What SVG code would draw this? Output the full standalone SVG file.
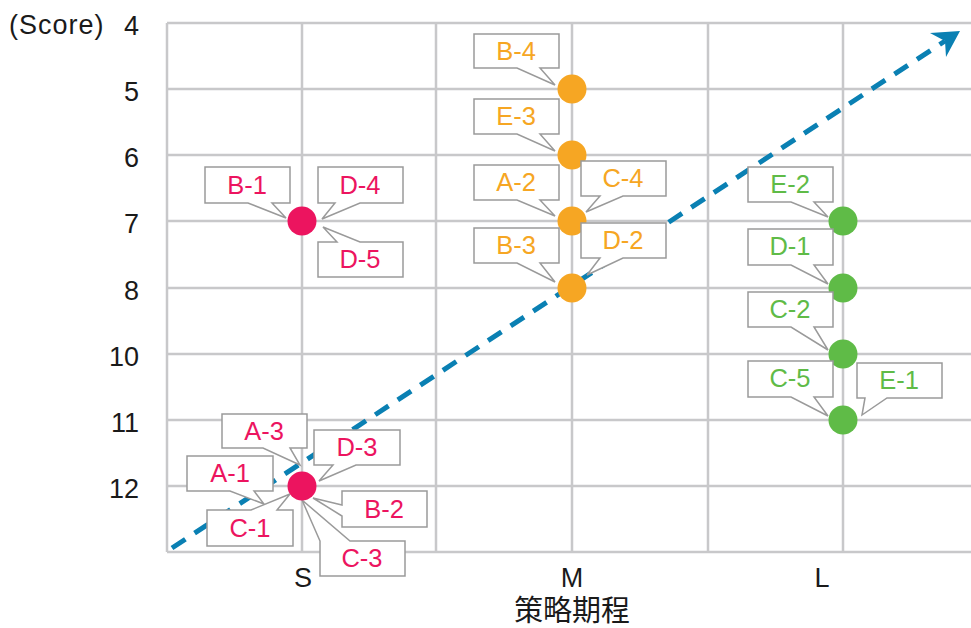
<svg xmlns="http://www.w3.org/2000/svg" width="971" height="628" viewBox="0 0 971 628">
<style>
.grid{stroke:#c8c8ca;stroke-width:2.5;fill:none}
.ax{font-family:"Liberation Sans",Arial,sans-serif;font-size:27px;fill:#1a1a1a}
.cjk{font-family:"Liberation Sans","Noto Sans CJK TC",sans-serif;font-size:29px;fill:#1a1a1a}
.co{fill:#fff;stroke:#9a9a9a;stroke-width:1.5}
.lb{font-family:"Liberation Sans",Arial,sans-serif;font-size:25.5px;text-anchor:middle}
.pk{fill:#ec145f}
.og{fill:#f6a623}
.gn{fill:#5fbb47}
</style>
<rect width="971" height="628" fill="#fff"/>
<g id="grid">
<path class="grid" d="M167 23H971M167 89H971M167 155H971M167 221H971M167 288H971M167 354H971M167 420H971M167 486H971M167 552H971"/>
<path class="grid" d="M167 23V552M302 23V552M436 23V552M572 23V552M708 23V552M843 23V552"/>
</g>
<g id="axes">
<text class="ax" x="9" y="34" font-size="28" letter-spacing="1">(Score)</text>
<g text-anchor="end">
<text class="ax" x="139" y="35">4</text>
<text class="ax" x="139" y="101">5</text>
<text class="ax" x="139" y="167">6</text>
<text class="ax" x="139" y="233">7</text>
<text class="ax" x="139" y="300">8</text>
<text class="ax" x="139" y="366">10</text>
<text class="ax" x="139" y="432">11</text>
<text class="ax" x="139" y="498">12</text>
</g>
<g text-anchor="middle">
<text class="ax" x="303" y="587">S</text>
<text class="ax" x="572" y="587">M</text>
<text class="ax" x="822" y="587">L</text>
<text class="cjk" x="572" y="621">策略期程</text>
</g>
</g>
<g id="connectors">
<line x1="172" y1="548" x2="945" y2="41" stroke="#0a80b3" stroke-width="5" stroke-dasharray="16 11"/>
<path d="M960 31L930 33L945 41L946 57Z" fill="#0a80b3"/>
</g>
<g id="node-s7">
<path class="co" d="M205 167H290V203H272L286 218L248 203H205Z"/>
<text class="lb pk" x="247" y="194">B-1</text>
<path class="co" d="M318 167H403V203H360L322 219L335 203H318Z"/>
<text class="lb pk" x="360" y="194">D-4</text>
<path class="co" d="M318 242H337L323 227L360 242H403V277H318Z"/>
<text class="lb pk" x="360" y="268">D-5</text>
<circle class="pk" cx="302" cy="221" r="14.5"/>
</g>
<g id="node-s12">
<path class="co" d="M222 414H307V448H290L300 465L263 448H222Z"/>
<text class="lb pk" x="264" y="440">A-3</text>
<path class="co" d="M314 430H400V465H356L319 481L333 465H314Z"/>
<text class="lb pk" x="357" y="456">D-3</text>
<path class="co" d="M187 456H273V491H254L264 504L230 491H187Z"/>
<text class="lb pk" x="230" y="482">A-1</text>
<path class="co" d="M207 510H251L290 494L277 510H293V546H207Z"/>
<text class="lb pk" x="250" y="537">C-1</text>
<path class="co" d="M342 491H427V527H342V516L313 498L342 505Z"/>
<text class="lb pk" x="384" y="518">B-2</text>
<path class="co" d="M320 541L302 500L350 541H405V576H320Z"/>
<text class="lb pk" x="362" y="567">C-3</text>
<circle class="pk" cx="302" cy="486" r="14.5"/>
</g>
<g id="node-m5">
<path class="co" d="M474 34H559V68H540L555 85L517 68H474Z"/>
<text class="lb og" x="516" y="60">B-4</text>
<circle class="og" cx="572" cy="89" r="14.5"/>
</g>
<g id="node-m6">
<path class="co" d="M474 99H559V134H540L555 151L517 134H474Z"/>
<text class="lb og" x="516" y="125">E-3</text>
<circle class="og" cx="572" cy="155" r="14.5"/>
</g>
<g id="node-m7">
<path class="co" d="M474 165H559V200H540L555 216L517 200H474Z"/>
<text class="lb og" x="516" y="191">A-2</text>
<path class="co" d="M581 161H666V196H623L586 212L600 196H581Z"/>
<text class="lb og" x="623" y="187">C-4</text>
<circle class="og" cx="572" cy="221" r="14.5"/>
</g>
<g id="node-m8">
<path class="co" d="M474 228H559V263H540L555 282L517 263H474Z"/>
<text class="lb og" x="516" y="254">B-3</text>
<path class="co" d="M581 223H666V258H623L587 275L600 258H581Z"/>
<text class="lb og" x="623" y="249">D-2</text>
<circle class="og" cx="572" cy="288" r="14.5"/>
</g>
<g id="node-l7">
<path class="co" d="M748 167H833V202H814L828 217L791 202H748Z"/>
<text class="lb gn" x="790" y="193">E-2</text>
<circle class="gn" cx="843" cy="221" r="14.5"/>
</g>
<g id="node-l8">
<path class="co" d="M748 229H833V265H814L828 284L791 265H748Z"/>
<text class="lb gn" x="790" y="255">D-1</text>
<circle class="gn" cx="843" cy="288" r="14.5"/>
</g>
<g id="node-l10">
<path class="co" d="M748 292H833V327H814L828 350L791 327H748Z"/>
<text class="lb gn" x="790" y="318">C-2</text>
<circle class="gn" cx="843" cy="354" r="14.5"/>
</g>
<g id="node-l11">
<path class="co" d="M748 361H833V397H814L828 416L791 397H748Z"/>
<text class="lb gn" x="790" y="387">C-5</text>
<path class="co" d="M857 363H942V398H887L862 415L865 398H857Z"/>
<text class="lb gn" x="899" y="389">E-1</text>
<circle class="gn" cx="843" cy="420" r="14.5"/>
</g>
</svg>
